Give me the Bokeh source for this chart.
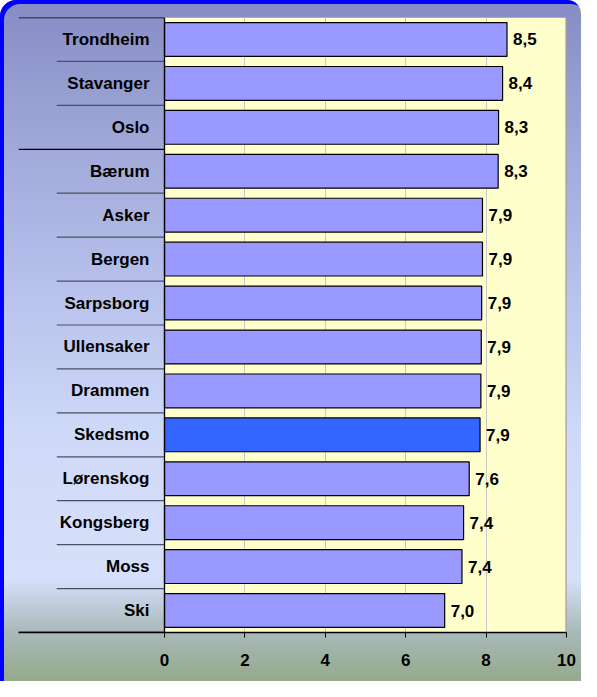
from bokeh.plotting import figure
from bokeh.models import FactorRange, Range1d, FixedTicker, BoxAnnotation, Span, ColumnDataSource
from bokeh.core.properties import value
from bokeh.embed import file_html
from bokeh.resources import INLINE

# ---- data ----
cities = ["Trondheim", "Stavanger", "Oslo", "Bærum", "Asker", "Bergen", "Sarpsborg",
          "Ullensaker", "Drammen", "Skedsmo", "Lørenskog", "Kongsberg", "Moss", "Ski"]
scores = [8.52, 8.41, 8.31, 8.30, 7.91, 7.91, 7.89, 7.88, 7.87, 7.85, 7.58, 7.44, 7.40, 6.97]
score_labels = ["8,5", "8,4", "8,3", "8,3", "7,9", "7,9", "7,9", "7,9", "7,9", "7,9",
                "7,6", "7,4", "7,4", "7,0"]
group_sizes = [3, 11]
highlight = "Skedsmo"
x_ticks = [0, 2, 4, 6, 8, 10]

FONT = value("Liberation Sans")
n = len(cities)
x_left = -3.632

colors = ["#3366FF" if c == highlight else "#9999FF" for c in cities]
src = ColumnDataSource(dict(city=cities, score=scores, lab=score_labels, color=colors,
                            zero=[0] * n))

p = figure(width=581, height=681, output_backend="svg", toolbar_location=None,
           y_range=FactorRange(factors=list(reversed(cities))),
           x_range=Range1d(x_left, 10),
           y_axis_location=None, min_border_left=18, min_border_right=15,
           min_border_top=17, min_border_bottom=49)
p.background_fill_color = None
p.border_fill_color = None
p.outline_line_color = None
p.styles = {
    "background": "linear-gradient(to bottom, #868CC4 0%, #A0A8D8 21%, #B8C2EC 43%, "
                  "#D0DAF8 65%, #D6E0FA 85%, #A8B8B8 93%, #95A98B 100%)",
    "box-shadow": "inset 4px 4px 0 0 #0000FF",
    "border-top-left-radius": "16px",
    "border-top-right-radius": "14px",
}

# plot-area (yellow) background
p.add_layout(BoxAnnotation(left=0, right=10, fill_color="#FFFFCC", fill_alpha=1,
                           line_color=None, level="image"))

# grid
p.ygrid.visible = False
p.xgrid.ticker = FixedTicker(ticks=x_ticks[1:-1])
p.xgrid.grid_line_color = "#C8C8C8"
p.xgrid.grid_line_width = 1

# right edge of plot area
p.add_layout(Span(location=10, dimension="height", line_color="#8C8C8C", line_width=2))

# category separators (group boundaries longer)
long_b = [n]
acc = n
for g in group_sizes:
    acc -= g
    long_b.append(acc)
short_b = [k for k in range(1, n) if k not in long_b]
p.segment(x0=[x_left] * len(long_b), x1=[0] * len(long_b), y0=long_b, y1=long_b,
          line_color="black", line_width=1.3)
p.segment(x0=[-2.68] * len(short_b), x1=[0] * len(short_b), y0=short_b, y1=short_b,
          line_color="#4A5062", line_width=1.2)

# bars
p.hbar(y="city", right="score", left=0, height=0.77, fill_color="color",
       line_color="black", line_width=1.2, source=src)

# vertical axis line at 0
p.add_layout(Span(location=0, dimension="height", line_color="black", line_width=1.3))

# value labels
p.text(x="score", y="city", text="lab", source=src, x_offset=6, text_align="left",
       text_baseline="middle", text_font=FONT, text_font_style="bold",
       text_font_size="17px", text_color="black")
# category labels
p.text(x="zero", y="city", text="city", source=src, x_offset=-15, text_align="right",
       text_baseline="middle", text_font=FONT, text_font_style="bold",
       text_font_size="17px", text_color="black")

# x axis
ax = p.xaxis[0]
ax.ticker = FixedTicker(ticks=x_ticks)
ax.bounds = (x_left, 10)
ax.axis_line_color = "black"
ax.axis_line_width = 1.3
ax.major_tick_line_color = "black"
ax.major_tick_in = 0
ax.major_tick_out = 5
ax.minor_tick_line_color = None
ax.major_label_standoff = 16
ax.major_label_text_font = "Liberation Sans"
ax.major_label_text_font_style = "bold"
ax.major_label_text_font_size = "17px"
ax.major_label_text_color = "black"

open("out.html", "w").write(file_html(p, INLINE))
